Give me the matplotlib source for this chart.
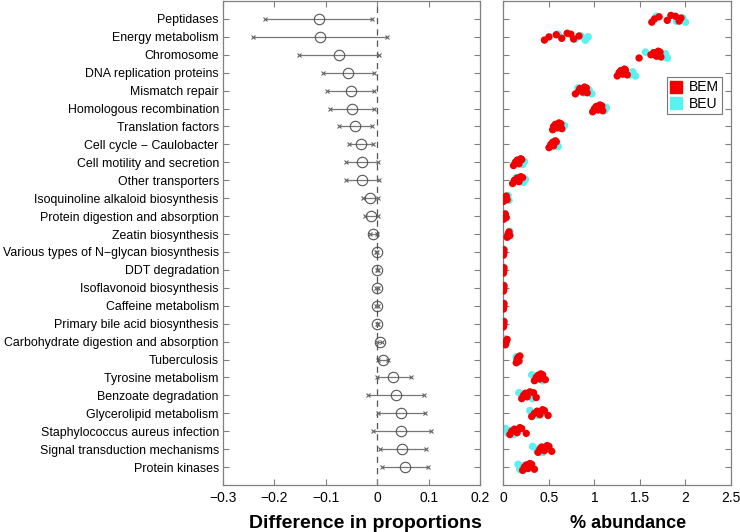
import matplotlib
matplotlib.use("Agg")
import matplotlib.pyplot as plt

plt.rcParams['font.family'] = ['Liberation Sans', 'DejaVu Sans']

categories = ["Peptidases", "Energy metabolism", "Chromosome", "DNA replication proteins",
              "Mismatch repair", "Homologous recombination", "Translation factors",
              "Cell cycle \u2212 Caulobacter", "Cell motility and secretion", "Other transporters",
              "Isoquinoline alkaloid biosynthesis", "Protein digestion and absorption",
              "Zeatin biosynthesis", "Various types of N\u2212glycan biosynthesis", "DDT degradation",
              "Isoflavonoid biosynthesis", "Caffeine metabolism", "Primary bile acid biosynthesis",
              "Carbohydrate digestion and absorption", "Tuberculosis", "Tyrosine metabolism",
              "Benzoate degradation", "Glycerolipid metabolism", "Staphylococcus aureus infection",
              "Signal transduction mechanisms", "Protein kinases"]

# difference in proportions with 95% CI
diff = [-0.114, -0.112, -0.075, -0.056, -0.052, -0.049, -0.043, -0.031, -0.029, -0.029,
        -0.015, -0.012, -0.008, -0.001, 0.0, 0.0, 0.0, 0.0005, 0.005, 0.011, 0.031,
        0.037, 0.047, 0.047, 0.049, 0.054]
ci_low = [-0.2175, -0.242, -0.153, -0.106, -0.097, -0.092, -0.075, -0.054, -0.060, -0.060,
          -0.027, -0.023, -0.014, -0.002, -0.001, -0.002, -0.002, -0.001, 0.0, 0.002, 0.0,
          -0.017, 0.001, -0.009, 0.006, 0.009]
ci_high = [-0.010, 0.019, 0.004, -0.007, -0.006, -0.006, -0.010, -0.009, 0.002, 0.003,
           0.001, 0.001, -0.001, 0.0005, 0.001, 0.002, 0.002, 0.002, 0.010, 0.021, 0.066,
           0.091, 0.092, 0.105, 0.094, 0.098]

# % abundance per sample
bem = [[1.63, 1.66, 1.71, 1.80, 1.84, 1.89, 1.93, 1.95],
       [0.45, 0.50, 0.58, 0.64, 0.70, 0.74, 0.77, 0.83],
       [1.49, 1.62, 1.65, 1.68, 1.70, 1.72, 1.73],
       [1.25, 1.27, 1.29, 1.31, 1.33, 1.34, 1.36],
       [0.79, 0.83, 0.84, 0.87, 0.89, 0.91, 0.92],
       [0.98, 1.00, 1.02, 1.04, 1.06, 1.08, 1.09],
       [0.54, 0.55, 0.57, 0.59, 0.61, 0.63, 0.64],
       [0.50, 0.52, 0.54, 0.55, 0.57, 0.58],
       [0.11, 0.13, 0.15, 0.17, 0.19, 0.20],
       [0.10, 0.12, 0.15, 0.17, 0.19, 0.21],
       [0.00, 0.02, 0.03, 0.04],
       [0.00, 0.01, 0.02, 0.03],
       [0.04, 0.05, 0.06, 0.07],
       [0.0, 0.003, 0.005, 0.002],
       [0.0, 0.003, 0.005, 0.002],
       [0.0, 0.003, 0.005, 0.002],
       [0.0, 0.003, 0.005, 0.002],
       [0.0, 0.003, 0.005, 0.002],
       [0.02, 0.03, 0.04],
       [0.14, 0.15, 0.16, 0.17, 0.18],
       [0.34, 0.36, 0.38, 0.40, 0.41, 0.43, 0.46],
       [0.20, 0.22, 0.24, 0.26, 0.29, 0.33, 0.36],
       [0.31, 0.34, 0.37, 0.40, 0.43, 0.45, 0.49],
       [0.07, 0.09, 0.12, 0.15, 0.18, 0.20, 0.25],
       [0.38, 0.40, 0.42, 0.45, 0.48, 0.50, 0.53],
       [0.21, 0.23, 0.25, 0.27, 0.29, 0.31, 0.34]]
beu = [[1.68, 1.90, 1.97, 2.00],
       [0.60, 0.79, 0.85, 0.90, 0.93],
       [1.56, 1.75, 1.78, 1.80],
       [1.32, 1.39, 1.42, 1.45],
       [0.82, 0.88, 0.94, 0.97],
       [1.07, 1.11, 1.13],
       [0.62, 0.65, 0.67],
       [0.56, 0.60],
       [0.16, 0.21, 0.23],
       [0.14, 0.22, 0.24],
       [0.05, 0.06],
       [0.01, 0.02],
       [0.07, 0.06],
       [0.003], [0.003], [0.003], [0.003], [0.003],
       [0.02, 0.035],
       [0.14, 0.17],
       [0.31, 0.37, 0.41, 0.43],
       [0.17, 0.21, 0.28, 0.32],
       [0.29, 0.36, 0.44],
       [0.02, 0.05, 0.08, 0.11],
       [0.32, 0.37, 0.40, 0.43],
       [0.16, 0.18, 0.20, 0.22]]

jitter = [-0.15, 0.12, -0.05, 0.18, 0.0, -0.12, 0.08, -0.2]

ypos = list(range(1, len(categories) + 1))
spine_col = "#808080"

fig = plt.figure(figsize=(7.4, 5.32), dpi=100)
ax1 = fig.add_axes([0.3014, 0.0883, 0.3473, 0.9098])
ax2 = fig.add_axes([0.6804, 0.0883, 0.3074, 0.9098])

# left panel - difference in proportions
ax1.axvline(0, color="#555555", linestyle=(0, (5, 4)), linewidth=0.9, zorder=1)
for i in range(len(categories)):
    ax1.plot([ci_low[i], ci_high[i]], [ypos[i], ypos[i]], color="#777777", linewidth=0.9, zorder=2)
ax1.plot(ci_low, ypos, "x", color="#666666", markersize=3.5, markeredgewidth=0.8, zorder=3)
ax1.plot(ci_high, ypos, "x", color="#666666", markersize=3.5, markeredgewidth=0.8, zorder=3)
ax1.plot(diff, ypos, "o", markerfacecolor="none", markeredgecolor="#555555",
         markersize=7.5, markeredgewidth=0.8, zorder=4)
ax1.set_xlim(-0.3, 0.2)
ax1.set_xticks([-0.3, -0.2, -0.1, 0, 0.1, 0.2])
ax1.set_xticklabels(["\u22120.3", "\u22120.2", "\u22120.1", "0", "0.1", "0.2"])
ax1.set_yticks(ypos)
ax1.set_yticklabels(categories, fontsize=8.9)
ax1.set_xlabel("Difference in proportions", fontsize=14, fontweight="bold", va="center")
ax1.xaxis.set_label_coords(0.556, -0.079)

# right panel - % abundance
for i in range(len(categories)):
    yb = [ypos[i] + jitter[k % len(jitter)] for k in range(len(beu[i]))]
    ax2.scatter(beu[i], yb, s=30, color="#5cf0f0", edgecolors="none", zorder=2)
for i in range(len(categories)):
    ym = [ypos[i] + jitter[(k + 3) % len(jitter)] for k in range(len(bem[i]))]
    ax2.scatter(bem[i], ym, s=28, color="#f00000", edgecolors="none", zorder=3)
ax2.set_xlim(0, 2.5)
ax2.set_xticks([0, 0.5, 1, 1.5, 2, 2.5])
ax2.set_xticklabels(["0", "0.5", "1", "1.5", "2", "2.5"])
ax2.set_yticks(ypos)
ax2.set_yticklabels([])
ax2.set_xlabel("% abundance", fontsize=13, fontweight="bold", va="center")
ax2.xaxis.set_label_coords(0.547, -0.079)

h1 = plt.Line2D([], [], marker="s", linestyle="none", color="#f00000", markersize=8)
h2 = plt.Line2D([], [], marker="s", linestyle="none", color="#5cf0f0", markersize=8)
leg = ax2.legend([h1, h2], ["BEM", "BEU"], loc="upper right", bbox_to_anchor=(0.962, 0.843),
                 borderaxespad=0, fancybox=False, fontsize=10, handlelength=0.8,
                 handletextpad=0.5, borderpad=0.25, labelspacing=0.15)
leg.get_frame().set_edgecolor("#555555")
leg.get_frame().set_linewidth(0.8)

for ax in (ax1, ax2):
    ax.set_ylim(27, 0)
    for s in ax.spines.values():
        s.set_color(spine_col)
        s.set_linewidth(0.9)
    ax.tick_params(direction="in", top=True, right=True, length=4, color=spine_col,
                   labelcolor="black", pad=4)
    ax.tick_params(axis="x", labelsize=10)
    ax.tick_params(axis="y", pad=3)

fig.savefig("out.png", dpi=100)
